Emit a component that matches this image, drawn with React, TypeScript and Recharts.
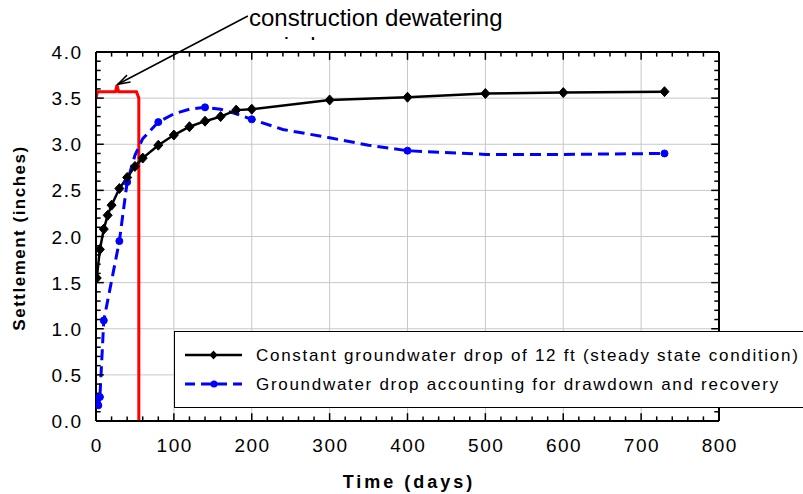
import React from 'react';
import { ComposedChart, Line, XAxis, YAxis, ReferenceLine } from 'recharts';

// ---- data ----
const steadyDays = [1, 5, 10, 15, 20, 30, 40, 50, 60, 80, 100, 120, 140, 160, 180, 200, 300, 400, 500, 600, 730];
const steadySettlement = [1.55, 1.86, 2.08, 2.23, 2.34, 2.52, 2.64, 2.76, 2.85, 2.99, 3.1, 3.19, 3.25, 3.3, 3.37, 3.38, 3.48, 3.51, 3.55, 3.56, 3.57];

const recoveryDays = [1, 3, 5, 10, 30, 40, 50, 60, 80, 100, 120, 140, 160, 180, 200, 240, 300, 350, 400, 500, 600, 730];
const recoverySettlement = [0.23, 0.17, 0.26, 1.09, 1.95, 2.59, 2.88, 3.06, 3.24, 3.33, 3.38, 3.4, 3.38, 3.33, 3.27, 3.16, 3.07, 2.99, 2.93, 2.89, 2.89, 2.9];
// days on the dashed curve that carry a visible marker
const recoveryMarkedDays = [1, 3, 5, 10, 30, 40, 80, 140, 200, 400, 730];

// red bracket marking the construction dewatering period
const dewateringDays = [0, 2, 25, 27, 29, 52, 55, 55];
const dewateringLevel = [3.5, 3.57, 3.57, 3.64, 3.57, 3.57, 3.5, 0];

// arrow from annotation text to the bracket
const arrowDays = [195, 28];
const arrowLevel = [4.39, 3.65];

const xMajorTicks = [0, 100, 200, 300, 400, 500, 600, 700, 800];
const yMajorTicks = [0, 0.5, 1, 1.5, 2, 2.5, 3, 3.5, 4];
const xGridValues = [100, 200, 300, 400, 500, 600, 700];
const yGridValues = [0.5, 1, 1.5, 2, 2.5, 3, 3.5];
const xMinorTicks = [20, 40, 60, 80, 120, 140, 160, 180, 220, 240, 260, 280, 320, 340, 360, 380, 420, 440, 460, 480, 520, 540, 560, 580, 620, 640, 660, 680, 720, 740, 760, 780];
const yMinorTicks = [0.1, 0.2, 0.3, 0.4, 0.6, 0.7, 0.8, 0.9, 1.1, 1.2, 1.3, 1.4, 1.6, 1.7, 1.8, 1.9, 2.1, 2.2, 2.3, 2.4, 2.6, 2.7, 2.8, 2.9, 3.1, 3.2, 3.3, 3.4, 3.6, 3.7, 3.8, 3.9];

const steadyLabel = 'Constant groundwater drop of 12 ft (steady state condition)';
const recoveryLabel = 'Groundwater drop accounting for drawdown and recovery';
const xTitle = 'Time (days)';
const yTitle = 'Settlement (inches)';
const noteLine1 = 'construction dewatering';
const noteLine2 = 'period';

const steadyData = steadyDays.map((d, i) => ({ day: d, value: steadySettlement[i] }));
const recoveryData = recoveryDays.map((d, i) => ({ day: d, value: recoverySettlement[i] }));
const dewateringData = dewateringDays.map((d, i) => ({ day: d, value: dewateringLevel[i] }));

const FONT = '"Liberation Sans", Arial, sans-serif';

const X_MIN = 0;
const X_MAX = 800;
const Y_MIN = 0;
const Y_MAX = 4;
// tick lengths in data units
const XT_MAJOR = 0.085;
const XT_MINOR = 0.05;
const YT_MAJOR = 10;
const YT_MINOR = 6;
const TICK_COLOR = '#000';

const BottomLabel = (props: any) => {
  const { x, y, payload } = props;
  return (
    <text x={x + 0.8} y={y + 31} textAnchor="middle" fontFamily={FONT} fontSize={19} letterSpacing={1.5} fill="#000">
      {payload.value}
    </text>
  );
};

const LeftLabel = (props: any) => {
  const { x, y, payload } = props;
  return (
    <text x={x - 13.5} y={y + 7} textAnchor="end" fontFamily={FONT} fontSize={19} letterSpacing={1.5} fill="#000">
      {Number(payload.value).toFixed(1)}
    </text>
  );
};

const Diamond = (props: any) => {
  const { cx, cy, index } = props;
  if (cx == null || cy == null) return <g key={index} />;
  return (
    <polygon
      key={index}
      points={`${cx},${cy - 5} ${cx + 4.5},${cy} ${cx},${cy + 5} ${cx - 4.5},${cy}`}
      fill="#000"
      stroke="#000"
      strokeWidth={1}
    />
  );
};

const BlueDot = (props: any) => {
  const { cx, cy, index, payload } = props;
  if (cx == null || cy == null || !recoveryMarkedDays.includes(payload.day)) return <g key={index} />;
  return <circle key={index} cx={cx} cy={cy} r={3.5} fill="#0000ff" stroke="#0000ff" />;
};

const Arrow = (props: any) => {
  const { x1, y1, x2, y2 } = props;
  if ([x1, y1, x2, y2].some((v) => v == null || isNaN(v))) return <g />;
  const ang = Math.atan2(y2 - y1, x2 - x1);
  const len = 13;
  const spread = 0.3;
  const ax = x2 - len * Math.cos(ang - spread);
  const ay = y2 - len * Math.sin(ang - spread);
  const bx = x2 - len * Math.cos(ang + spread);
  const by = y2 - len * Math.sin(ang + spread);
  return (
    <g>
      <line x1={x1} y1={y1} x2={x2} y2={y2} stroke="#000" strokeWidth={1.5} />
      <polyline points={`${ax},${ay} ${x2},${y2} ${bx},${by}`} fill="none" stroke="#000" strokeWidth={1.5} />
    </g>
  );
};

const Seg = (props: any) => {
  const { x1, y1, x2, y2, w, c } = props;
  return <line x1={x1} y1={y1} x2={x2} y2={y2} stroke={c || '#000'} strokeWidth={w || 1.5} />;
};

export default function App() {
  return (
    <div style={{ position: 'absolute', left: 0, top: 0, width: 803, height: 494, overflow: 'hidden', background: '#fff' }}>
      <svg width={803} height={494} style={{ position: 'absolute', left: 0, top: 0 }}>
        <defs>
          <clipPath id="periodClip">
            <rect x={0} y={0} width={803} height={40} />
          </clipPath>
        </defs>
        <text x={249} y={26} fontFamily={FONT} fontSize={24} fill="#000">{noteLine1}</text>
        <text x={249} y={54} fontFamily={FONT} fontSize={24} fill="#000" clipPath="url(#periodClip)">{noteLine2}</text>
      </svg>
      <div style={{ position: 'absolute', left: 0, top: 0 }}>
        <ComposedChart width={803} height={494} margin={{ top: 52, right: 84, bottom: 0, left: 0 }}>
          {xGridValues.map((v) => (
            <ReferenceLine key={`gx${v}`} x={v} stroke="#c8c8c8" strokeWidth={1} />
          ))}
          {yGridValues.map((v) => (
            <ReferenceLine key={`gy${v}`} y={v} stroke="#c8c8c8" strokeWidth={1} />
          ))}
          <XAxis
            dataKey="day"
            type="number"
            domain={[X_MIN, X_MAX]}
            ticks={xMajorTicks}
            interval={0}
            tickSize={0}
            tickMargin={0}
            tickLine={false}
            axisLine={false}
            height={73}
            tick={<BottomLabel />}
            allowDataOverflow
          />
          <YAxis
            type="number"
            domain={[Y_MIN, Y_MAX]}
            ticks={yMajorTicks}
            interval={0}
            tickSize={0}
            tickMargin={0}
            tickLine={false}
            axisLine={false}
            width={96}
            tick={<LeftLabel />}
            allowDataOverflow
          />
          <Line
            data={dewateringData}
            dataKey="value"
            type="linear"
            stroke="#ff0000"
            strokeWidth={3}
            dot={false}
            activeDot={false}
            isAnimationActive={false}
          />
          <Line
            data={recoveryData}
            dataKey="value"
            type="linear"
            stroke="#0000ff"
            strokeWidth={3}
            strokeDasharray="11 6"
            dot={<BlueDot />}
            activeDot={false}
            isAnimationActive={false}
          />
          <Line
            data={steadyData}
            dataKey="value"
            type="linear"
            stroke="#000"
            strokeWidth={2.5}
            dot={<Diamond />}
            activeDot={false}
            isAnimationActive={false}
          />
          {xMajorTicks.map((v) => (
            <ReferenceLine key={`xb${v}`} segment={[{ x: v, y: Y_MIN }, { x: v, y: Y_MIN + XT_MAJOR }]} ifOverflow="visible" shape={<Seg c={TICK_COLOR} />} />
          ))}
          {xMajorTicks.map((v) => (
            <ReferenceLine key={`xt${v}`} segment={[{ x: v, y: Y_MAX }, { x: v, y: Y_MAX - XT_MAJOR }]} ifOverflow="visible" shape={<Seg c={TICK_COLOR} />} />
          ))}
          {xMinorTicks.map((v) => (
            <ReferenceLine key={`xbm${v}`} segment={[{ x: v, y: Y_MIN }, { x: v, y: Y_MIN + XT_MINOR }]} ifOverflow="visible" shape={<Seg c={TICK_COLOR} />} />
          ))}
          {xMinorTicks.map((v) => (
            <ReferenceLine key={`xtm${v}`} segment={[{ x: v, y: Y_MAX }, { x: v, y: Y_MAX - XT_MINOR }]} ifOverflow="visible" shape={<Seg c={TICK_COLOR} />} />
          ))}
          {yMajorTicks.map((v) => (
            <ReferenceLine key={`yl${v}`} segment={[{ x: X_MIN, y: v }, { x: X_MIN + YT_MAJOR, y: v }]} ifOverflow="visible" shape={<Seg c={TICK_COLOR} />} />
          ))}
          {yMajorTicks.map((v) => (
            <ReferenceLine key={`yr${v}`} segment={[{ x: X_MAX, y: v }, { x: X_MAX - YT_MAJOR, y: v }]} ifOverflow="visible" shape={<Seg c={TICK_COLOR} />} />
          ))}
          {yMinorTicks.map((v) => (
            <ReferenceLine key={`ylm${v}`} segment={[{ x: X_MIN, y: v }, { x: X_MIN + YT_MINOR, y: v }]} ifOverflow="visible" shape={<Seg c={TICK_COLOR} />} />
          ))}
          {yMinorTicks.map((v) => (
            <ReferenceLine key={`yrm${v}`} segment={[{ x: X_MAX, y: v }, { x: X_MAX - YT_MINOR, y: v }]} ifOverflow="visible" shape={<Seg c={TICK_COLOR} />} />
          ))}
          <ReferenceLine segment={[{ x: X_MIN, y: Y_MIN }, { x: X_MIN, y: Y_MAX }]} ifOverflow="visible" shape={<Seg w={2} />} />
          <ReferenceLine segment={[{ x: X_MAX, y: Y_MIN }, { x: X_MAX, y: Y_MAX }]} ifOverflow="visible" shape={<Seg w={2} />} />
          <ReferenceLine segment={[{ x: X_MIN, y: Y_MIN }, { x: X_MAX, y: Y_MIN }]} ifOverflow="visible" shape={<Seg w={2} />} />
          <ReferenceLine segment={[{ x: X_MIN, y: Y_MAX }, { x: X_MAX, y: Y_MAX }]} ifOverflow="visible" shape={<Seg w={2} />} />
          <ReferenceLine
            segment={[
              { x: arrowDays[0], y: arrowLevel[0] },
              { x: arrowDays[1], y: arrowLevel[1] },
            ]}
            ifOverflow="visible"
            shape={<Arrow />}
          />
        </ComposedChart>
      </div>
      {/* axis titles */}
      <svg width={803} height={494} style={{ position: 'absolute', left: 0, top: 0, pointerEvents: 'none' }}>
        <text x={409} y={487.5} textAnchor="middle" fontFamily={FONT} fontSize={18} fontWeight="bold" letterSpacing={3} fill="#000">
          {xTitle}
        </text>
        <text
          x={0}
          y={0}
          transform="translate(25,238) rotate(-90)"
          textAnchor="middle"
          fontFamily={FONT}
          fontSize={17}
          fontWeight="bold"
          letterSpacing={1.5}
          fill="#000"
        >
          {yTitle}
        </text>
      </svg>
      {/* legend */}
      <div
        style={{
          position: 'absolute',
          left: 174,
          top: 331,
          width: 700,
          height: 77,
          border: '1px solid #000',
          background: '#fff',
          boxSizing: 'border-box',
        }}
      >
        <svg width={700} height={77} style={{ position: 'absolute', left: -1, top: -1 }}>
          <line x1={11} x2={68} y1={24} y2={24} stroke="#000" strokeWidth={2.5} />
          <polygon points={`39.5,19.5 43.5,24 39.5,28.5 35.5,24`} fill="#000" />
          <text x={82} y={30} fontFamily={FONT} fontSize={17} letterSpacing={1.7} fill="#000">{steadyLabel}</text>
          <line x1={11} x2={68} y1={53} y2={53} stroke="#0000ff" strokeWidth={3} strokeDasharray="10 6" />
          <circle cx={40} cy={53} r={3.5} fill="#0000ff" />
          <text x={82} y={59} fontFamily={FONT} fontSize={17} letterSpacing={1.7} fill="#000">{recoveryLabel}</text>
        </svg>
      </div>
    </div>
  );
}
